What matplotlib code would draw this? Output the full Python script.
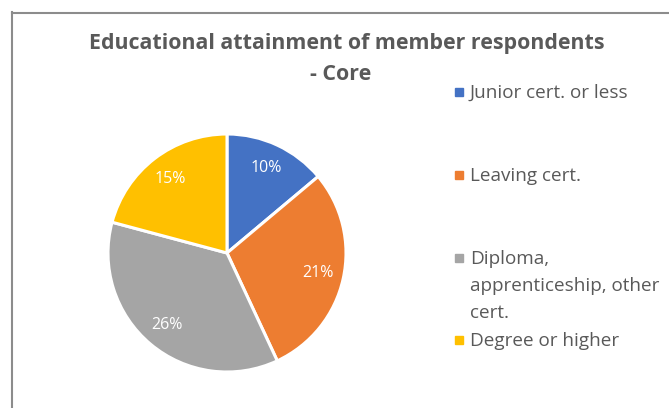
import matplotlib
matplotlib.use("Agg")
import matplotlib.pyplot as plt
from matplotlib.lines import Line2D
from matplotlib.patches import Rectangle

categories = ["Junior cert. or less", "Leaving cert.",
              "Diploma,\napprenticeship, other\ncert.", "Degree or higher"]
values = [10, 21, 26, 15]
colors = ["#4472C4", "#ED7D31", "#A5A5A5", "#FFC000"]
title_lines = ["Educational attainment of member respondents", "- Core"]

W, H = 669, 408
fig = plt.figure(figsize=(W / 100, H / 100), dpi=100)
fig.patch.set_facecolor("white")
FONT = "Open Sans"

def fx(px):
    return px / W

def fy(py):
    return 1 - py / H

# chart frame (left and top visible)
fig.add_artist(Line2D([fx(11.5), fx(11.5)], [fy(12), fy(H)], color="#8c8c8c", lw=1.5))
fig.add_artist(Line2D([fx(11.5), fx(W)], [fy(12.5), fy(12.5)], color="#8c8c8c", lw=1.5))

cx, cy, r = 227, 253, 119
ax = fig.add_axes([fx(cx - r), fy(cy + r), 2 * r / W, 2 * r / H])
wedges, texts, autotexts = ax.pie(
    values, colors=colors, startangle=90, counterclock=False,
    autopct=lambda p: "", pctdistance=0.785,
    wedgeprops=dict(edgecolor="white", linewidth=2.2))
for t, v in zip(autotexts, values):
    t.set_text(f"{v}%")
    t.set_color("white")
    t.set_fontsize(11.5)
    t.set_family(FONT)
ax.set_xlim(-1, 1)
ax.set_ylim(-1, 1)
ax.set_aspect("auto")

fig.text(fx(347), fy(49), title_lines[0],
         ha="center", va="baseline", fontsize=15.4, fontweight="bold",
         color="#595959", family=FONT)
fig.text(fx(341), fy(80), title_lines[1], ha="center", va="baseline", fontsize=15.4,
         fontweight="bold", color="#595959", family=FONT)

legend_baseline = [98, 181, 264, 346]
line_h = 27
fs = 13.6
for lab, col, b in zip(categories, colors, legend_baseline):
    fig.add_artist(Rectangle((fx(455), fy(b - 2)), 8 / W, 8 / H, color=col,
                             transform=fig.transFigure))
    for i, line in enumerate(lab.split("\n")):
        fig.text(fx(470), fy(b + i * line_h), line, ha="left", va="baseline",
                 fontsize=fs, color="#595959", family=FONT)

fig.savefig("out.png", dpi=100, facecolor="white")
